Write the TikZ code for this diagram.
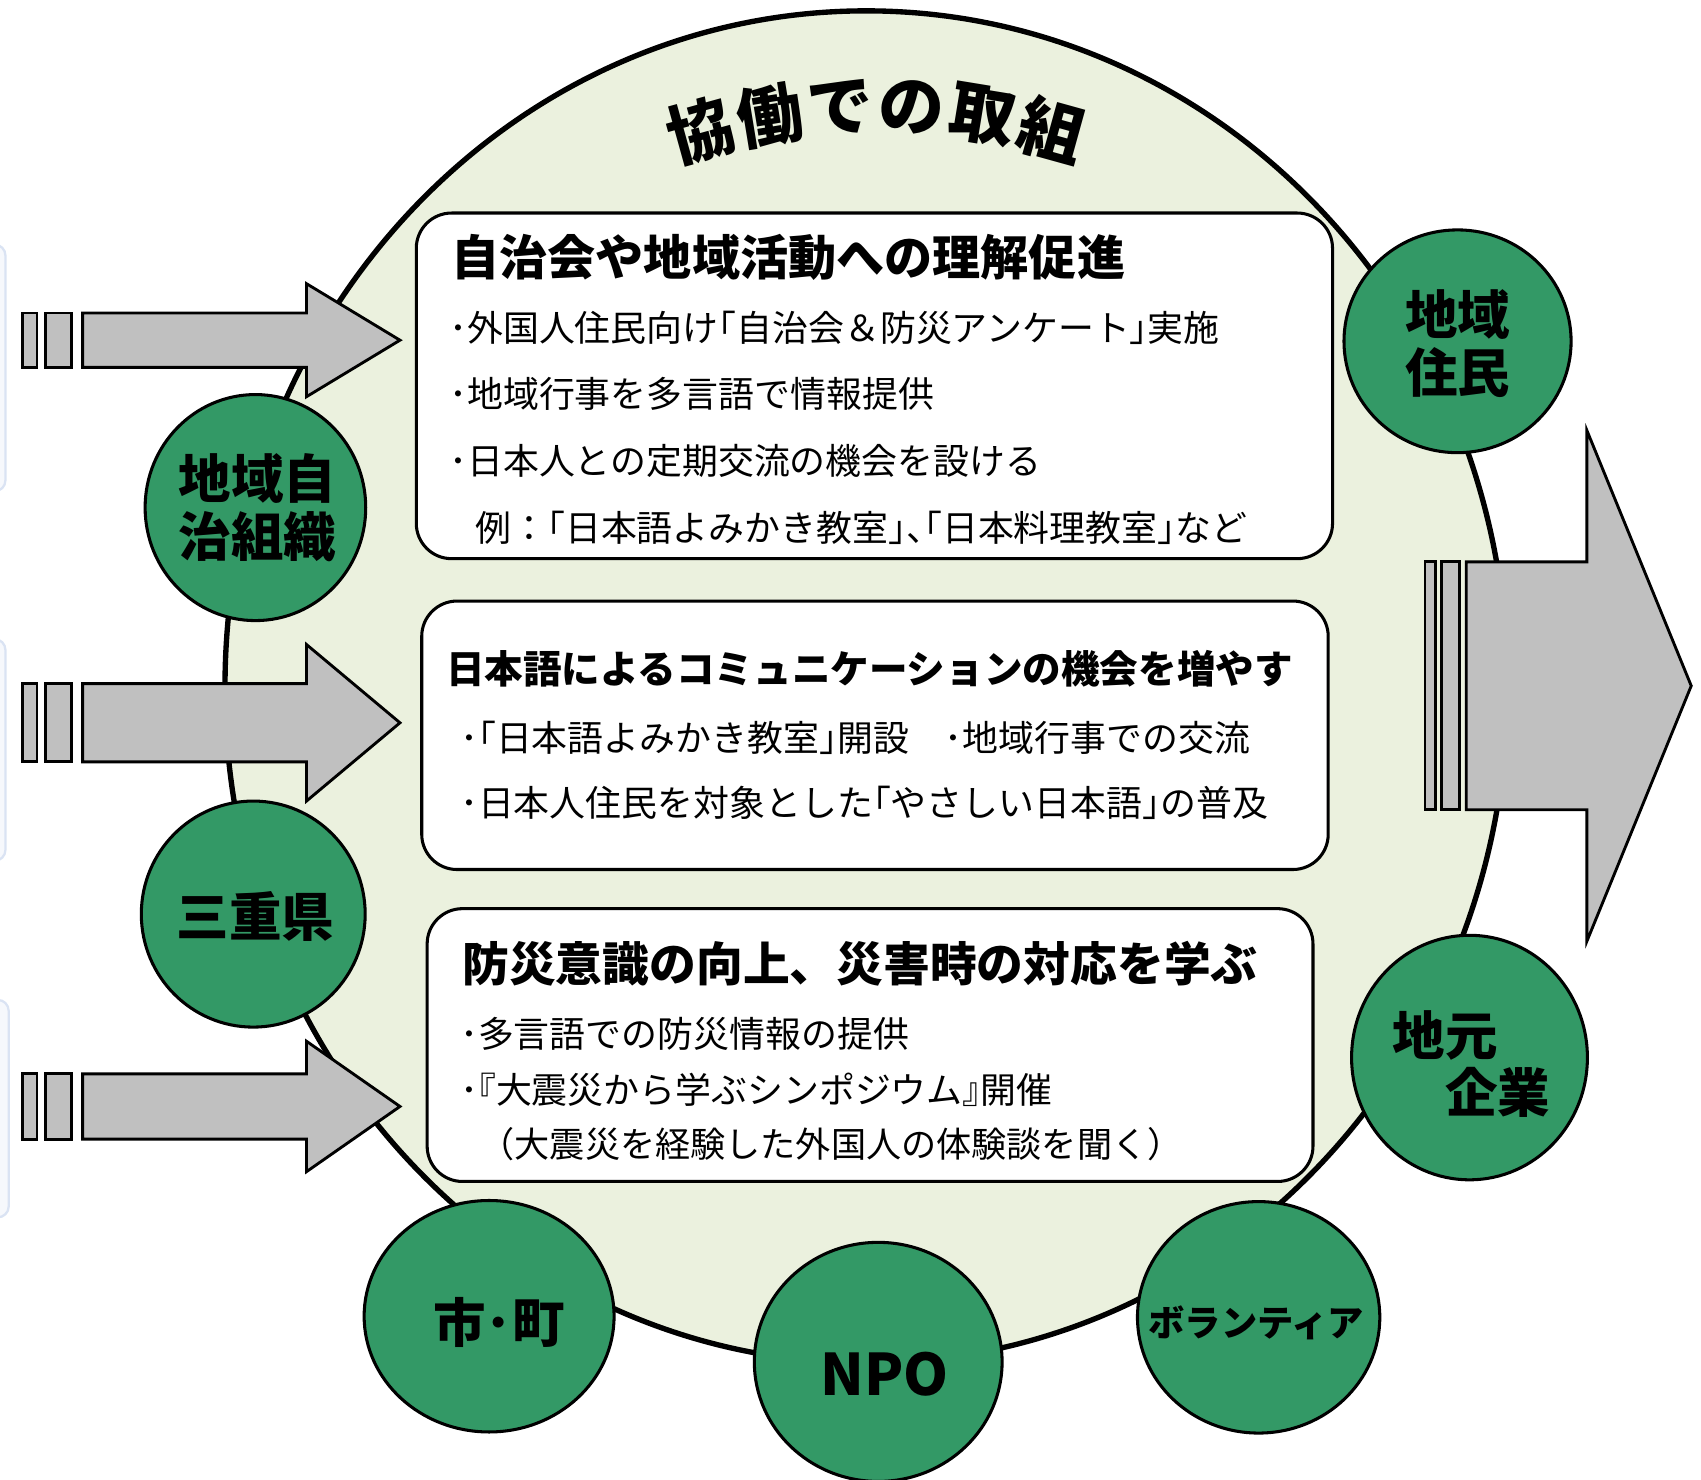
\documentclass[tikz,border=0pt]{standalone}
\usepackage{fontspec}
\setmainfont{Noto Sans CJK JP}
\newfontfamily\jphalt[RawFeature=+halt]{Noto Sans CJK JP}
\usetikzlibrary{shapes.geometric}
\definecolor{bgc}{HTML}{EBF1DE}
\definecolor{grn}{HTML}{339966}
\definecolor{arr}{HTML}{C0C0C0}
\definecolor{lbl}{HTML}{DAE3F3}
\newcommand\setfs[1]{\fontsize{#1}{1.1\dimexpr #1pt\relax}\selectfont}
% half-width punctuation
\newcommand\hw[1]{{\jphalt #1}}
\tikzset{
  gc/.style={ellipse, draw, line width=1.6pt, fill=grn, inner sep=0pt},
  lab/.style={inner sep=0pt, align=center, font=\bfseries\setfs{27.5}},
  boxsty/.style={draw, line width=1.6pt, fill=white, rounded corners=0.65cm},
  arrsty/.style={draw, line width=1.5pt, fill=arr, line join=miter},
  head/.style={anchor=west, inner sep=0pt, font=\bfseries\setfs{25.2}},
  txt/.style={anchor=west, inner sep=0pt, font=\setfs{18.8}},
  ttl/.style={inner sep=0pt, font=\bfseries\setfs{34.5}}
}
\begin{document}
\begin{tikzpicture}[x=0.02cm,y=-0.02cm]
\useasboundingbox (0,0) rectangle (1565,1361);
\begin{scope}
\clip (0,0) rectangle (1565,1361);
% light blue partial shapes at the left edge
\draw[lbl, line width=1.2pt, fill=lbl!25, rounded corners=0.2cm] (-100,225) rectangle (5,452);
\draw[lbl, line width=1.2pt, fill=lbl!25, rounded corners=0.2cm] (-100,588) rectangle (5,792);
\draw[lbl, line width=1.2pt, fill=lbl!25, rounded corners=0.2cm] (-100,920) rectangle (8,1120);
% big circle
\draw[line width=2.8pt, fill=bgc] (797,632) ellipse [x radius=590, y radius=622];
\end{scope}
% title along an arc
\foreach \c [count=\i] in {協,働,で,の,取,組} {
  \pgfmathsetmacro\a{(\i-3.5)*6.2}
  \node[ttl, rotate=-\a] (t\i) at ({806+605*sin(\a)},{703-605*cos(\a)}) {\c};
}
% boxes
\draw[boxsty] (383,196) rectangle (1226,514);
\draw[boxsty] (388,553) rectangle (1222,800);
\draw[boxsty] (393,836) rectangle (1208,1087);
% box 1
\node[head] (h1) at (415,237) {自治会や地域活動への理解促進};
\node[txt] (a1) at (413,302) {･外国人住民向け\hw{「}自治会＆防災アンケート\hw{」}実施};
\node[txt] (a2) at (413,362) {･地域行事を多言語で情報提供};
\node[txt] (a3) at (413,424) {･日本人との定期交流の機会を設ける};
\node[txt] (a4) at (437,486) {例：\hw{「}日本語よみかき教室\hw{」、「}日本料理教室\hw{」}など};
% box 2
\node[head, font=\bfseries\setfs{20.2}] (h2) at (410,615) {日本語によるコミュニケーションの機会を増やす};
\node[txt] (b1) at (423,679) {･\hw{「}日本語よみかき教室\hw{」}開設　･地域行事での交流};
\node[txt] (b2) at (423,739) {･日本人住民を対象とした\hw{「}やさしい日本語\hw{」}の普及};
% box 3
\node[head, font=\bfseries\setfs{24.5}] (h3) at (425,887) {防災意識の向上、災害時の対応を学ぶ};
\node[txt] (c1) at (423,951) {･多言語での防災情報の提供};
\node[txt] (c2) at (423,1003) {･\hw{『}大震災から学ぶシンポジウム\hw{』}開催};
\node[txt, font=\setfs{18.4}] (c3) at (441,1053) {（大震災を経験した外国人の体験談を聞く）};
% left arrows
\foreach \c/\h/\H in {313/25/52, 665/36/72, 1018/30/60} {
  \draw[arrsty] (76,\c-\h) -- (282,\c-\h) -- (282,\c-\H) -- (368,\c) -- (282,\c+\H) -- (282,\c+\h) -- (76,\c+\h) -- cycle;
  \draw[arrsty] (21,\c-\h) rectangle (34,\c+\h);
  \draw[arrsty] (42,\c-\h) rectangle (66,\c+\h);
}
% right arrow
\draw[arrsty] (1349,517) -- (1460,517) -- (1460,396) -- (1556,631) -- (1460,866) -- (1460,745) -- (1349,745) -- cycle;
\draw[arrsty] (1311,517) rectangle (1321,745);
\draw[arrsty] (1326,517) rectangle (1343,745);
% green circles
\node[gc, minimum width=4.06cm, minimum height=4.16cm] (jichi) at (235,467) {};
\node[lab] (jichi-t) at (237,467) {地域自\\治組織};
\node[gc, minimum width=4.12cm, minimum height=4.16cm] (mie) at (233,841) {};
\node[lab] (mie-t) at (235,843) {三重県};
\node[gc, minimum width=4.18cm, minimum height=4.1cm] (jumin) at (1341,314) {};
\node[lab] (jumin-t) at (1341,316) {地域\\住民};
\node[gc, minimum width=4.34cm, minimum height=4.5cm] (kigyo) at (1352,973) {};
\node[lab, align=left] (kigyo-t) at (1354,979) {地元\\\hspace*{1em}企業};
\node[gc, minimum width=4.6cm, minimum height=4.26cm] (shi) at (450,1211) {};
\node[lab] (shi-t) at (459,1217) {市･町};
\node[gc, minimum width=4.56cm, minimum height=4.4cm] (npo) at (808,1253) {};
\node[lab, font=\bfseries\setfs{30}] (npo-t) at (814,1264) {NPO};
\node[gc, minimum width=4.46cm, minimum height=4.26cm] (vol) at (1158,1212) {};
\node[lab, font=\bfseries\setfs{19}] (vol-t) at (1156,1217) {ボランティア};
\end{tikzpicture}
\end{document}
